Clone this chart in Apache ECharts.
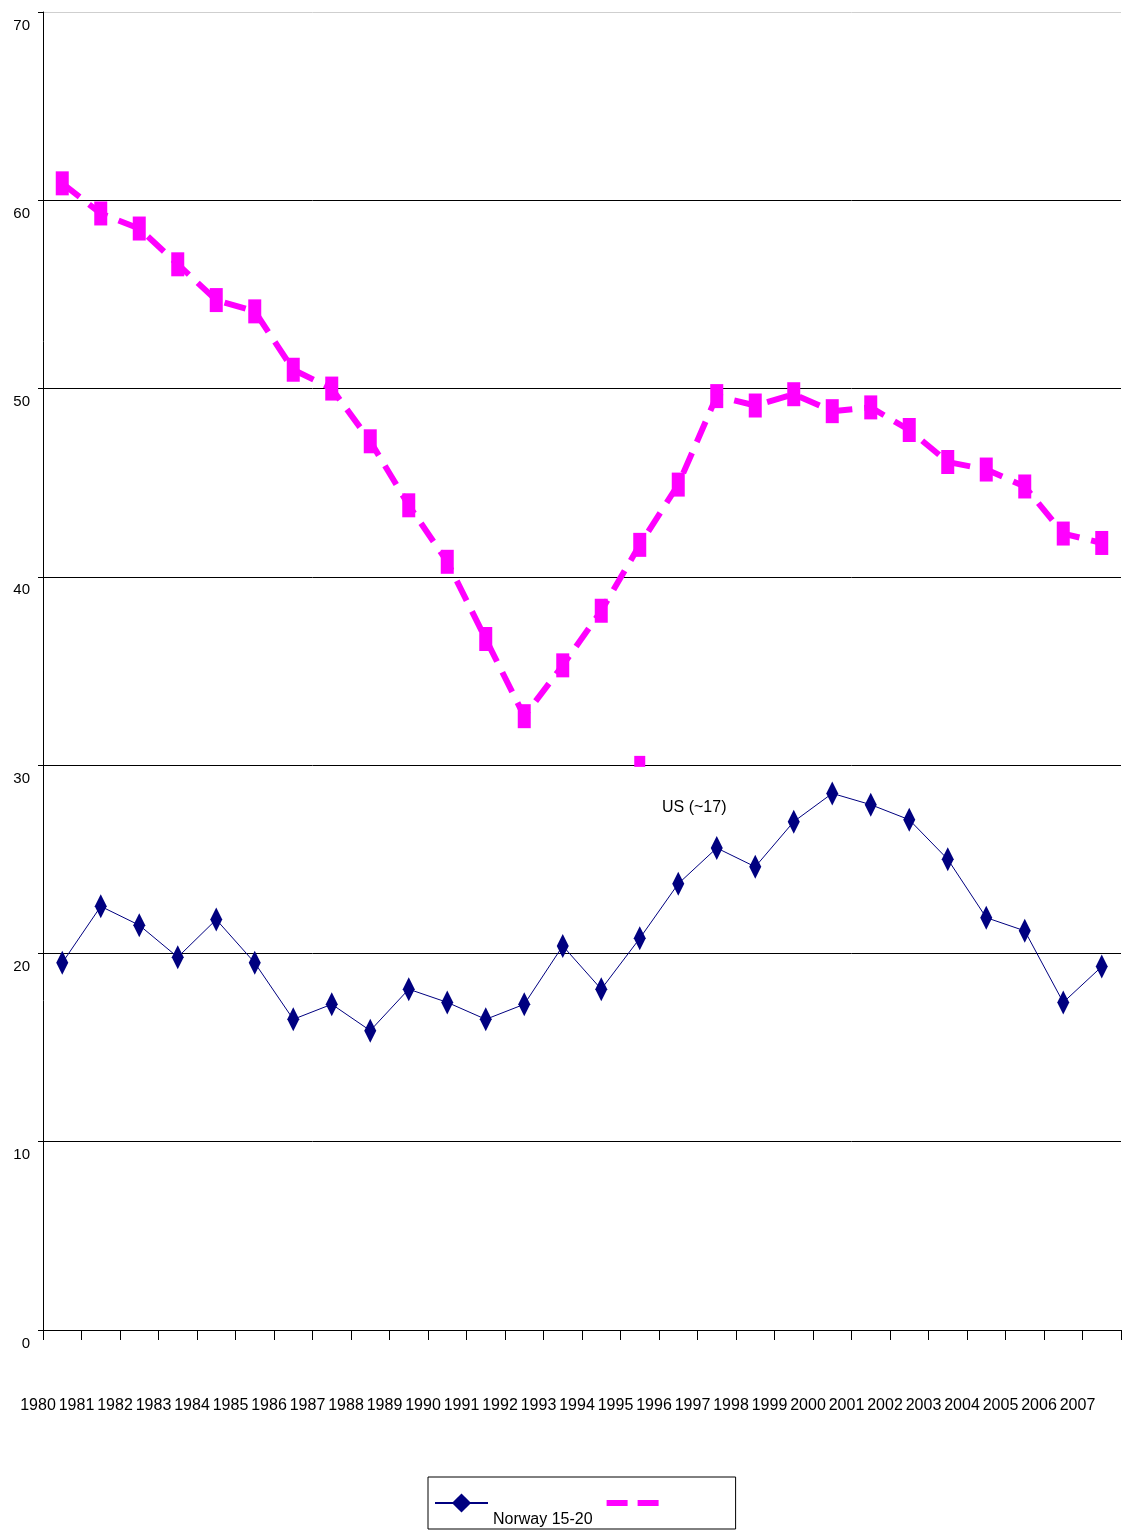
<!DOCTYPE html>
<html>
<head>
<meta charset="utf-8">
<title>Norway 15-20 / US</title>
<script src="https://cdn.jsdelivr.net/npm/echarts@6/dist/echarts.min.js"></script>
<style>
  html, body { margin: 0; padding: 0; background: #fff; }
  #chart { width: 1124px; height: 1531px; }
</style>
</head>
<body>
<div id="chart"></div>
<script>
// Years on the category axis
const years = ['1980', '1981', '1982', '1983', '1984', '1985', '1986', '1987', '1988', '1989',
  '1990', '1991', '1992', '1993', '1994', '1995', '1996', '1997', '1998', '1999',
  '2000', '2001', '2002', '2003', '2004', '2005', '2006', '2007'];

// Norway, age 15-20
const norway = [19.5, 22.5, 21.5, 19.8, 21.8, 19.5, 16.5, 17.3, 15.9, 18.1,
  17.4, 16.5, 17.3, 20.4, 18.1, 20.8, 23.7, 25.6, 24.6, 27.0,
  28.5, 27.9, 27.1, 25.0, 21.9, 21.2, 17.4, 19.3];

// US
const us = [60.9, 59.3, 58.5, 56.6, 54.7, 54.1, 51.0, 50.0, 47.2, 43.8,
  40.8, 36.7, 32.6, 35.3, 38.2, 41.7, 44.9, 49.6, 49.1, 49.7,
  48.8, 49.0, 47.8, 46.1, 45.7, 44.8, 42.3, 41.8];

// Single loose US marker (1995)
const usLoose = [null, null, null, null, null, null, null, null, null, null,
  null, null, null, null, null, 30.2, null, null, null, null,
  null, null, null, null, null, null, null, null];

// Y axis range
const yMin = 0, yMax = 70, yStep = 10;

const FONT = '"Liberation Sans", Arial, sans-serif';
const PINK = '#ff00ff';
const NAVY = '#000080';
const chart = echarts.init(document.getElementById('chart'));

chart.setOption({
  animation: false,
  backgroundColor: '#fff',
  textStyle: { fontFamily: FONT },
  grid: { left: 43, right: 2, top: 12, bottom: 201, containLabel: false },
  xAxis: [
    {
      type: 'category',
      data: years,
      boundaryGap: true,
      axisLine: { show: true, lineStyle: { color: '#000', width: 1 } },
      axisTick: { show: true, length: 10, lineStyle: { color: '#000' } },
      axisLabel: { show: false },
      splitLine: { show: false }
    },
    {
      // year labels sit on the band boundaries
      type: 'category',
      data: years.concat(['']),
      boundaryGap: false,
      position: 'bottom',
      axisLine: { show: false },
      axisTick: { show: false },
      splitLine: { show: false },
      axisLabel: {
        interval: 0,
        margin: 68,
        padding: [0, 10, 0, 0],
        color: '#000',
        fontSize: 16,
        fontFamily: FONT
      }
    }
  ],
  yAxis: {
    type: 'value',
    min: yMin,
    max: yMax,
    interval: yStep,
    axisLine: { show: true, lineStyle: { color: '#000', width: 1 } },
    axisTick: { show: true, length: 5, lineStyle: { color: '#000' } },
    axisLabel: {
      color: '#000',
      fontSize: 15,
      fontFamily: FONT,
      margin: 13,
      verticalAlign: 'top',
      padding: [6, 0, 0, 0]
    },
    splitLine: {
      show: true,
      lineStyle: {
        color: ['#000', '#000', '#000', '#000', '#000', '#000', '#000', '#cfcfcf'],
        width: 1
      }
    }
  },
  legend: {
    left: 428,
    top: 1477,
    orient: 'horizontal',
    itemWidth: 53,
    itemHeight: 24,
    itemGap: 11,
    padding: [14, 73, 1, 6],
    borderColor: '#000',
    borderWidth: 1,
    backgroundColor: '#fff',
    formatter: function (name) { return name === 'US' ? '' : '{n|' + name + '}'; },
    textStyle: {
      color: '#000',
      fontSize: 16,
      fontFamily: FONT,
      rich: {
        n: { fontSize: 16, fontFamily: FONT, color: '#000', padding: [34, 0, 0, 0] }
      }
    },
    data: [
      { name: 'Norway 15-20' },
      { name: 'US', itemStyle: { opacity: 0 }, lineStyle: { width: 6, type: [21, 10], color: PINK } }
    ]
  },
  series: [
    {
      name: 'US',
      type: 'line',
      data: us,
      symbol: 'rect',
      symbolSize: [13, 24],
      itemStyle: { color: PINK },
      lineStyle: { color: PINK, width: 6, type: [22, 12] },
      z: 3
    },
    {
      name: 'US 1995',
      type: 'line',
      data: usLoose,
      symbol: 'rect',
      symbolSize: [11, 11],
      showAllSymbol: true,
      itemStyle: { color: PINK },
      lineStyle: { width: 0 },
      z: 3
    },
    {
      name: 'Norway 15-20',
      type: 'line',
      data: norway,
      symbol: 'diamond',
      symbolSize: [12, 24],
      itemStyle: { color: NAVY },
      lineStyle: { color: NAVY, width: 1 },
      z: 4
    }
  ],
  graphic: [
    {
      type: 'text',
      left: 662,
      top: 800,
      style: { text: 'US (~17)', fill: '#000', font: '16px ' + FONT }
    }
  ]
});
</script>
</body>
</html>
